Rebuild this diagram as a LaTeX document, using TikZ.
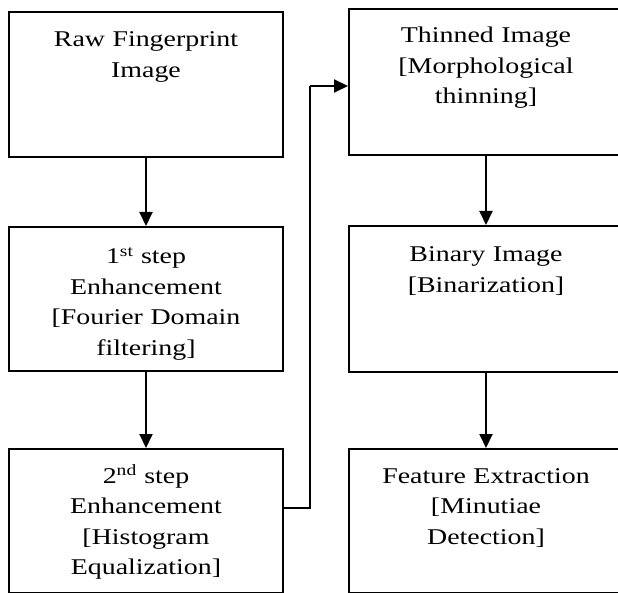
\documentclass[tikz,border=0pt]{standalone}
\usepackage{fontspec}
\setmainfont{Liberation Serif}[FakeStretch=1.24]
\usetikzlibrary{arrows.meta}
\tikzset{
  box/.style={draw=black, line width=2pt, minimum width=274pt, inner sep=0pt, anchor=north west},
  txt/.style={inner sep=0pt, align=center, text width=260pt, anchor=base, font=\fontsize{22.5}{30.5}\selectfont},
  conn/.style={line width=2pt, -{Triangle[width=13pt,length=14pt]}},
  wire/.style={line width=2pt}
}
\begin{document}
\begin{tikzpicture}[x=1pt,y=-1pt]
\useasboundingbox (0,0) rectangle (618,593);
\clip (0,0) rectangle (618,593);
% left column
\node[box, minimum height=145pt] (n1) at (8,11) {};
\node[box, minimum height=144pt] (n2) at (8,226) {};
\node[box, minimum height=143.5pt] (n3) at (8,448) {};
% right column
\node[box, minimum height=146pt] (n4) at (348,8) {};
\node[box, minimum height=146pt] (n5) at (348,225) {};
\node[box, minimum height=143.5pt] (n6) at (348,448) {};
% texts
\node[txt] (t1) at ([yshift=-36pt]n1.north) {Raw Fingerprint\\Image};
\node[txt] (t2) at ([yshift=-38pt]n2.north) {1\textsuperscript{st} step\\Enhancement\\{[}Fourier Domain\\filtering{]}};
\node[txt] (t3) at ([yshift=-35pt]n3.north) {2\textsuperscript{nd} step\\Enhancement\\{[}Histogram\\Equalization{]}};
\node[txt] (t4) at ([yshift=-35pt]n4.north) {Thinned Image\\{[}Morphological\\thinning{]}};
\node[txt] (t5) at ([yshift=-37pt]n5.north) {Binary Image\\{[}Binarization{]}};
\node[txt] (t6) at ([yshift=-35pt]n6.north) {Feature Extraction\\{[}Minutiae\\Detection{]}};
% connectors
\draw[conn] (n1.south) -- (n2.north);
\draw[conn] (n2.south) -- (n3.north);
\draw[conn] (n4.south) -- (n5.north);
\draw[conn] (n5.south) -- (n6.north);
\coordinate (c1) at (310,508);
\coordinate (c2) at (310,86);
\draw[wire] (n3.east |- c1) -- (c1) -- (c2);
\draw[conn] (c2) -- (n4.west |- c2);
\end{tikzpicture}
\end{document}
